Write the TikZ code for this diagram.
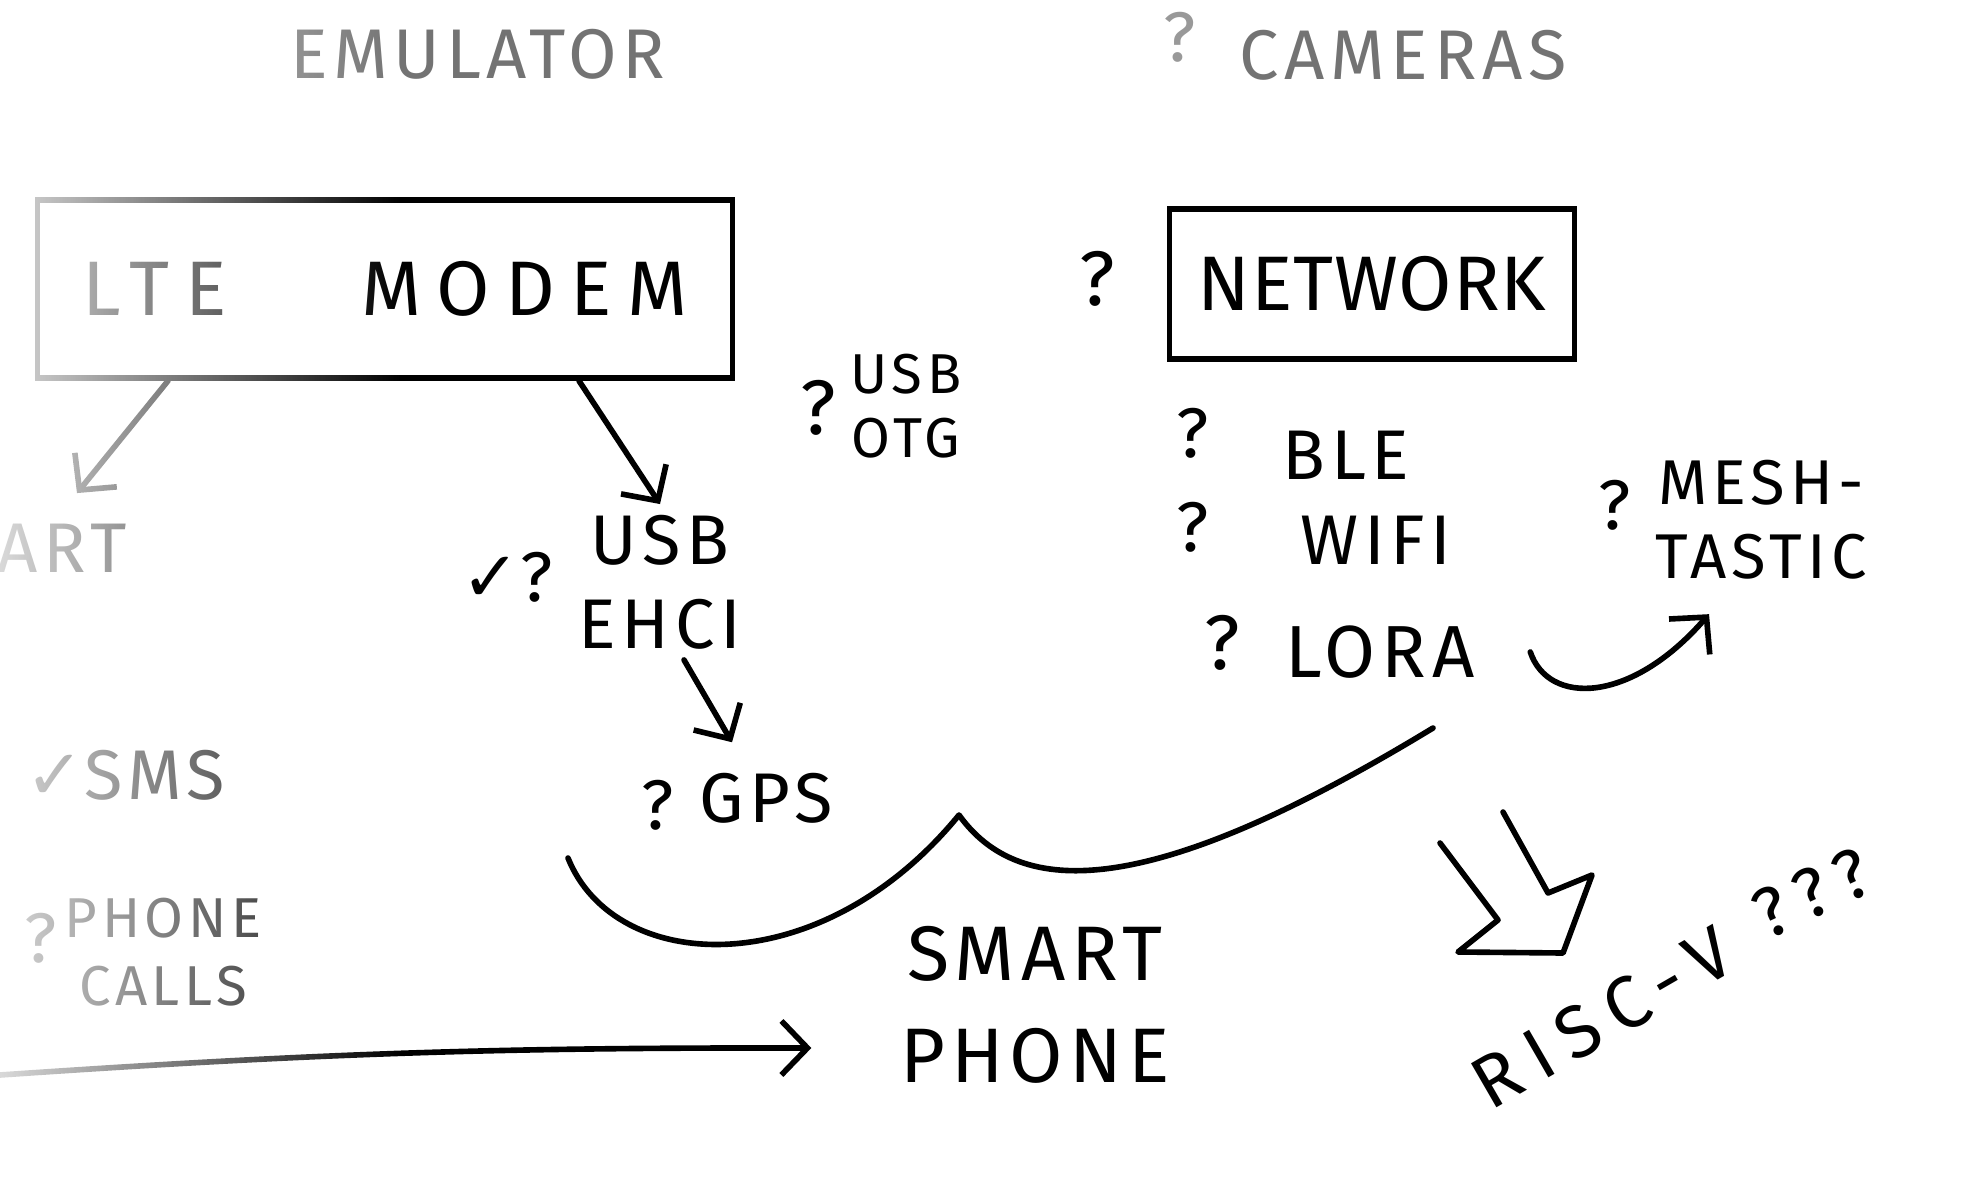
\documentclass[tikz,border=0pt]{standalone}
\usepackage{fontspec}
\setmainfont{Fira Sans}[LetterSpace=8]
\newfontfamily\symbfont{DejaVu Sans}
\newfontfamily\widefont{Fira Sans}[LetterSpace=20]
\newfontfamily\tightfont{Fira Sans}[LetterSpace=1]
\usepackage{tikz}
\usetikzlibrary{positioning,arrows.meta,fadings}

\begin{document}
\begin{tikzpicture}[
    x=0.1mm, y=-0.1mm,
    pen/.style={line width=1.6pt, line cap=round, line join=round},
    arrow/.style={pen, -{Straight Barb[length=2.6mm, width=5.4mm]}},
    box/.style={draw, line width=1.6pt, inner sep=0pt, align=center},
    big/.style={font=\fontsize{22}{29}\selectfont, inner sep=0pt, align=center},
    mid/.style={font=\fontsize{20}{24}\selectfont, inner sep=0pt, align=center},
    small/.style={font=\fontsize{16}{18}\selectfont, inner sep=0pt, align=center},
    faint/.style={text=black!55}
]
\useasboundingbox (0,0) rectangle (1988,1189);

% top notes
\node[mid, faint] (emu) at (478,54) {EMULATOR};
\node[mid, text=black!40] (qcam) at (1180,37) {?};
\node[mid, faint] (cam) at (1403,55) {CAMERAS};

% boxes
\node[box, big, font=\fontsize{22}{29}\widefont, minimum width=69.5mm, minimum height=17.8mm] (lte) at (385,289) {LTE\hspace{13.5mm}MODEM};
\node[box, big, font=\fontsize{22}{29}\tightfont, minimum width=40.5mm, minimum height=15mm] (net) at (1372,284) {NETWORK};
\node[big] (qnet) at (1097,279) {?};

% usb side
\node[small] (otg) at (906,406) {USB\\OTG};
\node[big] (qotg) at (818,408) {?};
\node[mid] (usb) at (660,582) {USB\\EHCI};
\node[mid] (chk) at (507,577) {{\symbfont ✓}?};
\node[mid] (gps) at (766,798) {GPS};
\node[mid] (qgps) at (658,805) {?};

% left column
\node[mid] (art) at (62,548) {ART};
\node[mid] (sms) at (125,775) {{\symbfont ✓}SMS};
\node[mid, font=\fontsize{16}{19.5}\selectfont] (calls) at (163,952) {PHONE\\CALLS};
\node[mid] (qcalls) at (41,938) {?};

% radios
\node[mid] (ble) at (1346,455) {BLE};
\node[mid] (qble) at (1193,433) {?};
\node[mid] (wifi) at (1376,540) {WIFI};
\node[mid] (qwifi) at (1193,527) {?};
\node[big, font=\fontsize{21}{29}\selectfont] (lora) at (1380,652) {LORA};
\node[big] (qlora) at (1222,643) {?};
\node[mid, font=\fontsize{18}{21}\selectfont] (mesh) at (1761,520) {MESH-\\TASTIC};
\node[mid] (qmesh) at (1615,505) {?};

% bottom
\node[big] (sp) at (1035,1005) {SMART\\PHONE};
\node[big, font=\fontsize{21}{29}\widefont, rotate=30] (risc) at (1602,1018) {RISC-V};
\node[mid, font=\fontsize{20}{24}\widefont, rotate=25] (qqq) at (1812,893) {???};

% arrows
\draw[arrow] ([xshift=19.4mm]lte.south) -- ([yshift=1mm]usb.north);
\draw[arrow] ([xshift=-21.7mm]lte.south) -- ([xshift=1.5mm,yshift=3mm]art.north);
\draw[arrow] ([xshift=2.4mm,yshift=-1mm]usb.south) -- ([xshift=-3.4mm,yshift=3mm]gps.north);
\draw[arrow] ([xshift=5.5mm]lora.east) .. controls (1548,705) and (1630,705) .. ([shift={(-52,34)}]mesh.south);
\coordinate (edge) at (0,1075);
\draw[arrow] (edge) to[bend left=2] ([shift={(-88,43)}]sp.west);

% brace round the radios and gps
\coordinate (bl) at (568,858);
\coordinate (tip) at (959,815);
\coordinate (br) at (1433,728);
\draw[pen] (bl) .. controls (615,975) and (820,985) .. (tip)
    .. controls (1020,900) and (1150,900) .. (br);

% hollow arrow to risc-v
\draw[pen] (1440,843) -- (1498,920) -- (1458,952) -- (1563,953) -- (1592,875) -- (1548,893) -- (1503,812);

% washed out left edge
\fill[white, path fading=east, fill opacity=0.85] (0,0) rectangle (400,1189);
\end{tikzpicture}
\end{document}
